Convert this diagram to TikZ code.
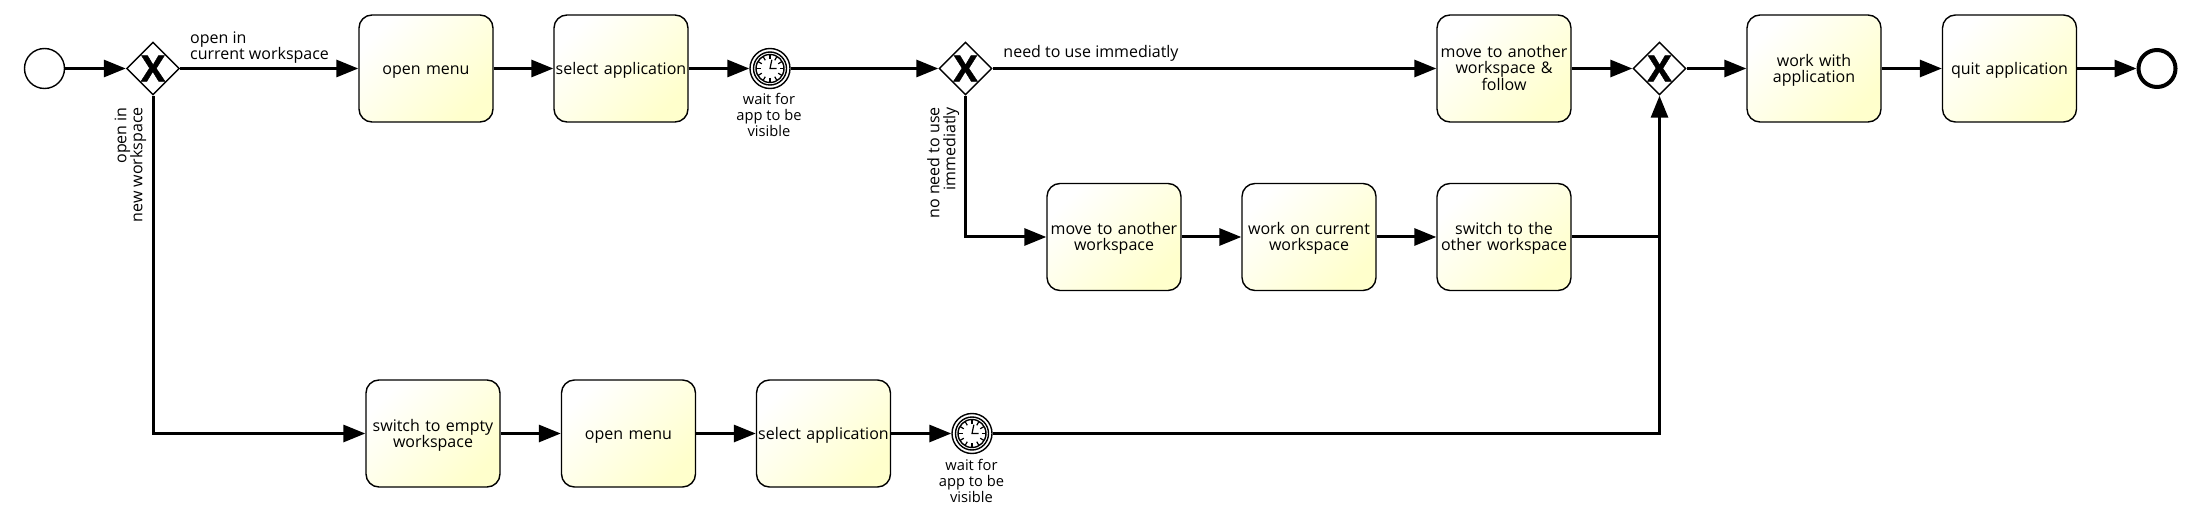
\documentclass[tikz,border=0pt]{standalone}
\usepackage{fontspec}
\setmainfont{Open Sans}
\newfontfamily\gatefont[BoldFeatures={FakeBold=1.2}]{Open Sans}
\usetikzlibrary{arrows.meta,shapes.geometric}
\definecolor{taskyellow}{RGB}{255,255,204}
\tikzset{
  label text/.style={font=\fontsize{16}{16}\selectfont,inner sep=0pt,align=center},
  wait text/.style={font=\fontsize{14.7}{15.8}\selectfont,inner sep=0pt,align=center},
  task/.style={rectangle,rounded corners=13pt,draw,line width=1.4pt,minimum width=134pt,minimum height=107pt,
    inner sep=0pt,left color=white,right color=taskyellow,shading angle=45,text width=134pt,align=center,font=\fontsize{16}{16}\selectfont,
    execute at begin node={\rule{0pt}{15.5pt}},execute at end node={\rule[-4pt]{0pt}{4pt}}},
  gate/.style={diamond,draw,fill=white,line width=1.4pt,minimum size=53pt,inner sep=0pt,aspect=1,font=\fontsize{36}{36}\gatefont\bfseries\selectfont},
  startev/.style={circle,draw,fill=white,line width=1.4pt,minimum size=40pt,inner sep=0pt},
  endev/.style={circle,draw,fill=white,line width=4pt,minimum size=37pt,inner sep=0pt},
  timer/.style={circle,draw,fill=white,line width=1.4pt,minimum size=40pt,inner sep=0pt},
  flow/.style={-{Stealth[inset=0pt,length=22pt,width=17pt]},line width=3pt},
  plainflow/.style={line width=3pt}
}
\begin{document}
\begin{tikzpicture}[x=1pt,y=-1pt]
  \useasboundingbox (0,0) rectangle (2193,513);
  \node[startev] (s0) at (44.5,68.5) {};
  \node[gate] (g1) at (153,68.5) {X};
  \node[task] (t1) at (426,68.5) {open menu};
  \node[task] (t2) at (621,68.5) {select application};
  \node[timer] (tm1) at (770,68.5) {};
  \node[gate] (g2) at (965.5,68.5) {X};
  \node[task] (t3) at (1504,68.5) {move to another\\workspace \&\\follow};
  \node[gate] (g3) at (1659.5,68.5) {X};
  \node[task] (t4) at (1814,68.5) {work with\\application};
  \node[task] (t5) at (2009.5,68.5) {quit application};
  \node[endev] (e0) at (2157,68.5) {};
  \node[task] (t6) at (1114,237) {move to another\\workspace};
  \node[task] (t7) at (1309,237) {work on current\\workspace};
  \node[task] (t8) at (1504,237) {switch to the\\other workspace};
  \node[task] (t9) at (433,433.5) {switch to empty\\workspace};
  \node[task] (t10) at (628.5,433.5) {open menu};
  \node[task] (t11) at (823.5,433.5) {select application};
  \node[timer] (tm2) at (972,433.5) {};
  \coordinate (j1) at (1658,237);
  \foreach \tm in {tm1,tm2} {
    \node[circle,draw,line width=1.4pt,minimum size=33pt,inner sep=0pt] (\tm r) at (\tm) {};
    \node[circle,draw,line width=1.4pt,minimum size=28pt,inner sep=0pt] (\tm f) at (\tm) {};
    \foreach \a in {0,30,...,330}
      \draw[line width=1.2pt] (\tm) ++(\a:9.5) -- ++(\a:4.5);
    \draw[line width=1.2pt] (\tm) ++(-78:9) -- (\tm.center) -- ++(6.5,0);
  }
  \draw[flow] (s0) -- (g1);
  \draw[flow] (g1) -- (t1);
  \draw[flow] (t1) -- (t2);
  \draw[flow] (t2) -- (tm1);
  \draw[flow] (tm1) -- (g2);
  \draw[flow] (g2) -- (t3);
  \draw[flow] (t3) -- (g3);
  \draw[flow] (g3) -- (t4);
  \draw[flow] (t4) -- (t5);
  \draw[flow] (t5) -- (e0);
  \draw[flow] (g1) |- (t9);
  \draw[flow] (t9) -- (t10);
  \draw[flow] (t10) -- (t11);
  \draw[flow] (t11) -- (tm2);
  \draw[flow] (tm2) -| (g3);
  \draw[flow] (g2) |- (t6);
  \draw[flow] (t6) -- (t7);
  \draw[flow] (t7) -- (t8);
  \draw[plainflow] (t8) -- (j1);
  \node[label text,anchor=north west,align=left] (l1) at (190,31.5) {open in\\current workspace};
  \node[label text,anchor=north east,align=right,rotate=90] (l2) at (114.5,107) {open in\\new workspace};
  \node[label text,anchor=north east,align=right,rotate=90] (l3) at (927,107) {no need to use\\immediatly};
  \node[label text] (l4) at (1091,53.5) {need to use immediatly};
  \node[wait text,anchor=north] (l5) at (769,93) {wait for\\app to be\\visible};
  \node[wait text,anchor=north] (l6) at (971.5,459) {wait for\\app to be\\visible};
\end{tikzpicture}
\end{document}
